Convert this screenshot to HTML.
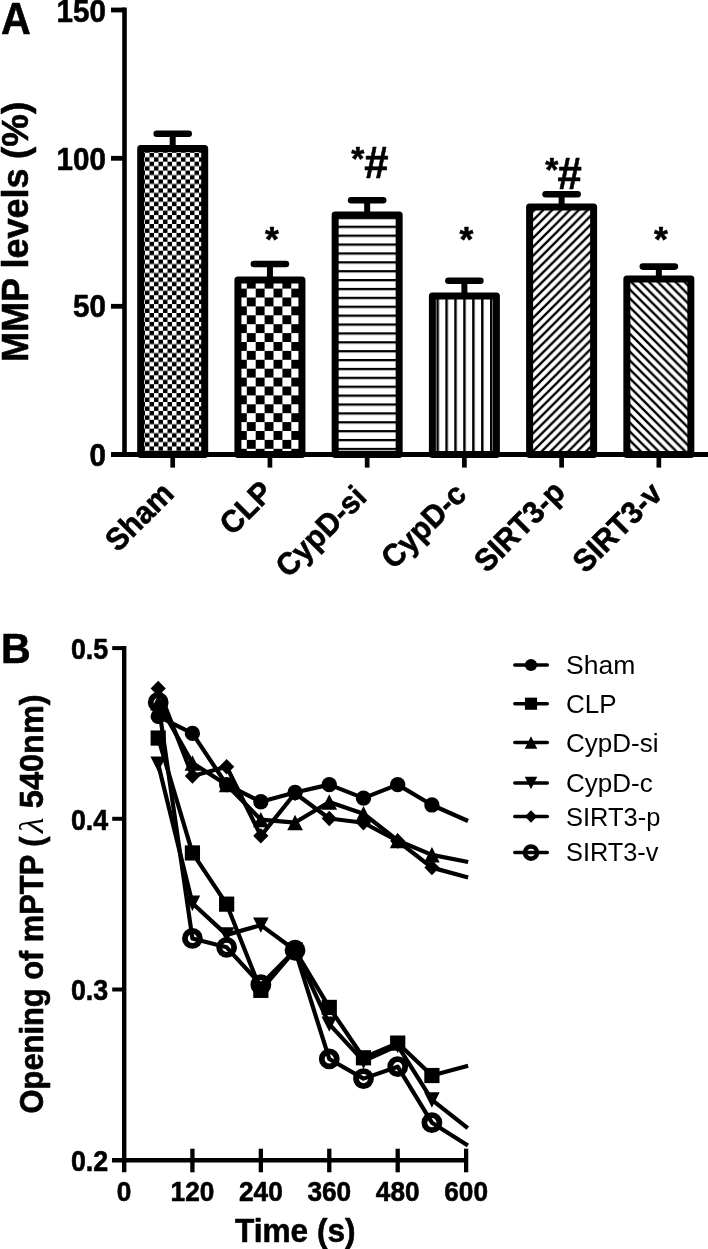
<!DOCTYPE html>
<html><head><meta charset="utf-8"><title>MMP levels and mPTP opening</title>
<style>html,body{margin:0;padding:0;background:#fff;width:708px;height:1249px;overflow:hidden}svg{display:block;filter:grayscale(1)}</style>
</head><body>
<svg width="708" height="1249" viewBox="0 0 708 1249">
<rect width="708" height="1249" fill="#fff"/>
<defs>
<pattern id="pSham" patternUnits="userSpaceOnUse" width="9" height="8.9" x="145" y="152.8">
  <rect width="9" height="8.9" fill="#000"/><rect width="4.5" height="4.45" fill="#fff"/><rect x="4.5" y="4.45" width="4.5" height="4.45" fill="#fff"/>
</pattern>
<pattern id="pCLP" patternUnits="userSpaceOnUse" width="17.8" height="17.8" x="246.8" y="288.6">
  <rect width="17.8" height="17.8" fill="#000"/><rect width="8.9" height="8.9" fill="#fff"/><rect x="8.9" y="8.9" width="8.9" height="8.9" fill="#fff"/>
</pattern>
<pattern id="pCsi" patternUnits="userSpaceOnUse" width="10" height="8.886" x="0" y="225.7">
  <rect width="10" height="8.886" fill="#fff"/><rect y="0" width="10" height="2.3" fill="#000"/>
</pattern>
<pattern id="pCc" patternUnits="userSpaceOnUse" width="8.93" height="10" x="445.35" y="0">
  <rect width="8.93" height="10" fill="#fff"/><rect x="0" width="2.5" height="10" fill="#000"/>
</pattern>
<pattern id="pSp" patternUnits="userSpaceOnUse" width="8.88" height="8.88" x="540" y="204.42">
  <rect width="8.88" height="8.88" fill="#fff"/>
  <path d="M-2,10.88 L10.88,-2 M-2,2 L2,-2 M6.88,10.88 L10.88,6.88" stroke="#000" stroke-width="2.3"/>
</pattern>
<pattern id="pSv" patternUnits="userSpaceOnUse" width="8.88" height="8.88" x="640" y="281.8">
  <rect width="8.88" height="8.88" fill="#fff"/>
  <path d="M-2,-2 L10.88,10.88 M-2,6.88 L2,10.88 M6.88,-2 L10.88,2" stroke="#000" stroke-width="2.3"/>
</pattern>
</defs>
<rect x="140.70" y="148.60" width="64.00" height="305.90" fill="url(#pSham)" stroke="#000" stroke-width="7.0" stroke-linejoin="round"/>
<line x1="172.70" y1="133.70" x2="172.70" y2="148.60" stroke="#000" stroke-width="6"/>
<line x1="156.70" y1="133.70" x2="188.70" y2="133.70" stroke="#000" stroke-width="6.6" stroke-linecap="round"/>
<rect x="237.93" y="280.00" width="64.00" height="174.50" fill="url(#pCLP)" stroke="#000" stroke-width="7.0" stroke-linejoin="round"/>
<line x1="269.93" y1="264.00" x2="269.93" y2="280.00" stroke="#000" stroke-width="6"/>
<line x1="253.93" y1="264.00" x2="285.93" y2="264.00" stroke="#000" stroke-width="6.6" stroke-linecap="round"/>
<rect x="335.16" y="214.90" width="64.00" height="239.60" fill="url(#pCsi)" stroke="#000" stroke-width="7.0" stroke-linejoin="round"/>
<line x1="367.16" y1="200.20" x2="367.16" y2="214.90" stroke="#000" stroke-width="6"/>
<line x1="351.16" y1="200.20" x2="383.16" y2="200.20" stroke="#000" stroke-width="6.6" stroke-linecap="round"/>
<rect x="432.39" y="295.90" width="64.00" height="158.60" fill="url(#pCc)" stroke="#000" stroke-width="7.0" stroke-linejoin="round"/>
<line x1="464.39" y1="280.70" x2="464.39" y2="295.90" stroke="#000" stroke-width="6"/>
<line x1="448.39" y1="280.70" x2="480.39" y2="280.70" stroke="#000" stroke-width="6.6" stroke-linecap="round"/>
<rect x="529.62" y="207.00" width="64.00" height="247.50" fill="url(#pSp)" stroke="#000" stroke-width="7.0" stroke-linejoin="round"/>
<line x1="561.62" y1="194.20" x2="561.62" y2="207.00" stroke="#000" stroke-width="6"/>
<line x1="545.62" y1="194.20" x2="577.62" y2="194.20" stroke="#000" stroke-width="6.6" stroke-linecap="round"/>
<rect x="626.85" y="279.00" width="64.00" height="175.50" fill="url(#pSv)" stroke="#000" stroke-width="7.0" stroke-linejoin="round"/>
<line x1="658.85" y1="266.60" x2="658.85" y2="279.00" stroke="#000" stroke-width="6"/>
<line x1="642.85" y1="266.60" x2="674.85" y2="266.60" stroke="#000" stroke-width="6.6" stroke-linecap="round"/>
<line x1="124.5" y1="7.6" x2="124.5" y2="457" stroke="#000" stroke-width="4.6"/>
<line x1="111" y1="454.5" x2="708" y2="454.5" stroke="#000" stroke-width="5"/>
<line x1="111" y1="10.0" x2="124.5" y2="10.0" stroke="#000" stroke-width="4.8"/>
<line x1="111" y1="158.3" x2="124.5" y2="158.3" stroke="#000" stroke-width="4.8"/>
<line x1="111" y1="306.3" x2="124.5" y2="306.3" stroke="#000" stroke-width="4.8"/>
<line x1="172.70" y1="454.5" x2="172.70" y2="467.6" stroke="#000" stroke-width="4.7"/>
<line x1="269.93" y1="454.5" x2="269.93" y2="467.6" stroke="#000" stroke-width="4.7"/>
<line x1="367.16" y1="454.5" x2="367.16" y2="467.6" stroke="#000" stroke-width="4.7"/>
<line x1="464.39" y1="454.5" x2="464.39" y2="467.6" stroke="#000" stroke-width="4.7"/>
<line x1="561.62" y1="454.5" x2="561.62" y2="467.6" stroke="#000" stroke-width="4.7"/>
<line x1="658.85" y1="454.5" x2="658.85" y2="467.6" stroke="#000" stroke-width="4.7"/>
<text transform="translate(105.90,22.20) scale(0.955,1.0)" font-family="Liberation Sans, sans-serif" font-size="31" font-weight="bold" text-anchor="end" stroke="#000" stroke-width="0.6" stroke-linejoin="round">150</text>
<text transform="translate(105.90,170.40) scale(0.955,1.0)" font-family="Liberation Sans, sans-serif" font-size="31" font-weight="bold" text-anchor="end" stroke="#000" stroke-width="0.6" stroke-linejoin="round">100</text>
<text transform="translate(105.90,316.80) scale(0.955,1.0)" font-family="Liberation Sans, sans-serif" font-size="31" font-weight="bold" text-anchor="end" stroke="#000" stroke-width="0.6" stroke-linejoin="round">50</text>
<text transform="translate(105.90,465.70) scale(0.955,1.0)" font-family="Liberation Sans, sans-serif" font-size="31" font-weight="bold" text-anchor="end" stroke="#000" stroke-width="0.6" stroke-linejoin="round">0</text>
<text transform="translate(0.90,33.90) scale(0.95,1.0)" font-family="Liberation Sans, sans-serif" font-size="43.5" font-weight="bold" text-anchor="start" stroke="#000" stroke-width="0.6" stroke-linejoin="round">A</text>
<text transform="translate(27.50,362.10) rotate(-90) scale(0.962,0.963)" font-family="Liberation Sans, sans-serif" font-size="37.5" font-weight="bold" text-anchor="start" stroke="#000" stroke-width="0.6" stroke-linejoin="round">MMP levels</text>
<text transform="translate(27.50,159.00) rotate(-90) scale(0.98,0.963)" font-family="Liberation Sans, sans-serif" font-size="37.5" font-weight="bold" text-anchor="start" stroke="#000" stroke-width="0.6" stroke-linejoin="round">(%)</text>
<text transform="translate(175.45,495.40) rotate(-45) scale(0.955,1.0)" font-family="Liberation Sans, sans-serif" font-size="31.3" font-weight="bold" text-anchor="end" stroke="#000" stroke-width="0.6" stroke-linejoin="round">Sham</text>
<text transform="translate(274.70,494.25) rotate(-45) scale(0.955,1.0)" font-family="Liberation Sans, sans-serif" font-size="31.3" font-weight="bold" text-anchor="end" stroke="#000" stroke-width="0.6" stroke-linejoin="round">CLP</text>
<text transform="translate(368.30,498.80) rotate(-45) scale(0.955,1.0)" font-family="Liberation Sans, sans-serif" font-size="31.3" font-weight="bold" text-anchor="end" stroke="#000" stroke-width="0.6" stroke-linejoin="round">CypD-si</text>
<text transform="translate(468.00,496.30) rotate(-45) scale(0.955,1.0)" font-family="Liberation Sans, sans-serif" font-size="31.3" font-weight="bold" text-anchor="end" stroke="#000" stroke-width="0.6" stroke-linejoin="round">CypD-c</text>
<text transform="translate(566.70,493.95) rotate(-45) scale(0.955,1.0)" font-family="Liberation Sans, sans-serif" font-size="31.3" font-weight="bold" text-anchor="end" stroke="#000" stroke-width="0.6" stroke-linejoin="round">SIRT3-p</text>
<text transform="translate(664.05,495.50) rotate(-45) scale(0.955,1.0)" font-family="Liberation Sans, sans-serif" font-size="31.3" font-weight="bold" text-anchor="end" stroke="#000" stroke-width="0.6" stroke-linejoin="round">SIRT3-v</text>
<text transform="translate(272.03,251.40) scale(1.0,1.0)" font-family="Liberation Sans, sans-serif" font-size="35.5" font-weight="bold" text-anchor="middle" stroke="#000" stroke-width="0.6" stroke-linejoin="round">*</text>
<text transform="translate(466.49,251.40) scale(1.0,1.0)" font-family="Liberation Sans, sans-serif" font-size="35.5" font-weight="bold" text-anchor="middle" stroke="#000" stroke-width="0.6" stroke-linejoin="round">*</text>
<text transform="translate(660.95,251.40) scale(1.0,1.0)" font-family="Liberation Sans, sans-serif" font-size="35.5" font-weight="bold" text-anchor="middle" stroke="#000" stroke-width="0.6" stroke-linejoin="round">*</text>
<text transform="translate(351.30,170.40) scale(1.0,1.0)" font-family="Liberation Sans, sans-serif" font-size="33.5" font-weight="bold" text-anchor="start" stroke="#000" stroke-width="0.6" stroke-linejoin="round">*</text>
<text transform="translate(364.30,177.80) scale(0.975,1.0)" font-family="Liberation Sans, sans-serif" font-size="44.8" font-weight="bold" text-anchor="start" stroke="#000" stroke-width="0.6" stroke-linejoin="round">#</text>
<text transform="translate(545.20,181.30) scale(1.0,1.0)" font-family="Liberation Sans, sans-serif" font-size="33.5" font-weight="bold" text-anchor="start" stroke="#000" stroke-width="0.6" stroke-linejoin="round">*</text>
<text transform="translate(557.40,188.70) scale(0.975,1.0)" font-family="Liberation Sans, sans-serif" font-size="44.8" font-weight="bold" text-anchor="start" stroke="#000" stroke-width="0.6" stroke-linejoin="round">#</text>
<line x1="124.2" y1="646" x2="124.2" y2="1172.3" stroke="#000" stroke-width="4.4"/>
<line x1="112" y1="1160.20" x2="468.02" y2="1160.20" stroke="#000" stroke-width="4.6"/>
<line x1="112.2" y1="648.10" x2="124.2" y2="648.10" stroke="#000" stroke-width="4"/>
<line x1="112.2" y1="818.80" x2="124.2" y2="818.80" stroke="#000" stroke-width="4"/>
<line x1="112.2" y1="989.50" x2="124.2" y2="989.50" stroke="#000" stroke-width="4"/>
<line x1="192.42" y1="1148.7" x2="192.42" y2="1172.3" stroke="#000" stroke-width="4.3"/>
<line x1="260.85" y1="1148.7" x2="260.85" y2="1172.3" stroke="#000" stroke-width="4.3"/>
<line x1="329.27" y1="1148.7" x2="329.27" y2="1172.3" stroke="#000" stroke-width="4.3"/>
<line x1="397.70" y1="1148.7" x2="397.70" y2="1172.3" stroke="#000" stroke-width="4.3"/>
<line x1="466.12" y1="1148.7" x2="466.12" y2="1172.3" stroke="#000" stroke-width="4.3"/>
<text transform="translate(108.20,658.90) scale(0.91,1.0)" font-family="Liberation Sans, sans-serif" font-size="29.5" font-weight="bold" text-anchor="end" stroke="#000" stroke-width="0.6" stroke-linejoin="round">0.5</text>
<text transform="translate(108.20,829.60) scale(0.91,1.0)" font-family="Liberation Sans, sans-serif" font-size="29.5" font-weight="bold" text-anchor="end" stroke="#000" stroke-width="0.6" stroke-linejoin="round">0.4</text>
<text transform="translate(108.20,1000.30) scale(0.91,1.0)" font-family="Liberation Sans, sans-serif" font-size="29.5" font-weight="bold" text-anchor="end" stroke="#000" stroke-width="0.6" stroke-linejoin="round">0.3</text>
<text transform="translate(108.20,1171.00) scale(0.91,1.0)" font-family="Liberation Sans, sans-serif" font-size="29.5" font-weight="bold" text-anchor="end" stroke="#000" stroke-width="0.6" stroke-linejoin="round">0.2</text>
<text transform="translate(124.00,1200.90) scale(0.944,1.0)" font-family="Liberation Sans, sans-serif" font-size="27.8" font-weight="bold" text-anchor="middle" stroke="#000" stroke-width="0.6" stroke-linejoin="round">0</text>
<text transform="translate(192.42,1200.90) scale(0.944,1.0)" font-family="Liberation Sans, sans-serif" font-size="27.8" font-weight="bold" text-anchor="middle" stroke="#000" stroke-width="0.6" stroke-linejoin="round">120</text>
<text transform="translate(260.85,1200.90) scale(0.944,1.0)" font-family="Liberation Sans, sans-serif" font-size="27.8" font-weight="bold" text-anchor="middle" stroke="#000" stroke-width="0.6" stroke-linejoin="round">240</text>
<text transform="translate(329.27,1200.90) scale(0.944,1.0)" font-family="Liberation Sans, sans-serif" font-size="27.8" font-weight="bold" text-anchor="middle" stroke="#000" stroke-width="0.6" stroke-linejoin="round">360</text>
<text transform="translate(397.70,1200.90) scale(0.944,1.0)" font-family="Liberation Sans, sans-serif" font-size="27.8" font-weight="bold" text-anchor="middle" stroke="#000" stroke-width="0.6" stroke-linejoin="round">480</text>
<text transform="translate(466.12,1200.90) scale(0.944,1.0)" font-family="Liberation Sans, sans-serif" font-size="27.8" font-weight="bold" text-anchor="middle" stroke="#000" stroke-width="0.6" stroke-linejoin="round">600</text>
<text transform="translate(1.10,662.70) scale(0.95,1.0)" font-family="Liberation Sans, sans-serif" font-size="43.3" font-weight="bold" text-anchor="start" stroke="#000" stroke-width="0.6" stroke-linejoin="round">B</text>
<text transform="translate(295.30,1242.20) scale(0.952,1.0)" font-family="Liberation Sans, sans-serif" font-size="33.2" font-weight="bold" text-anchor="middle" stroke="#000" stroke-width="0.6" stroke-linejoin="round">Time (s)</text>
<text transform="translate(42.8,1113.4) rotate(-90) scale(0.9635,1.045)" font-family="Liberation Sans, sans-serif" font-size="32" font-weight="bold" stroke="#000" stroke-width="0.6" stroke-linejoin="round">Opening of mPTP (</text>
<text transform="translate(42.8,833) rotate(-90) scale(1.12,1.077)" font-family="Liberation Serif, serif" font-size="32" font-style="italic">&#955;</text>
<text transform="translate(42.8,808.2) rotate(-90) scale(1.016,1.045)" font-family="Liberation Sans, sans-serif" font-size="32" font-weight="bold" stroke="#000" stroke-width="0.6" stroke-linejoin="round">540nm)</text>
<polyline points="158.21,716.38 192.42,733.45 226.64,784.66 260.85,801.73 295.06,792.51 329.27,784.66 363.48,798.15 397.70,784.66 431.91,804.97 466.12,820.17" fill="none" stroke="#000" stroke-width="4.2" stroke-linejoin="round" stroke-linecap="square"/>
<polyline points="158.21,738.06 192.42,852.94 226.64,904.15 260.85,990.35 295.06,950.24 329.27,1007.42 363.48,1057.78 397.70,1043.10 431.91,1075.53 466.12,1066.32" fill="none" stroke="#000" stroke-width="4.2" stroke-linejoin="round" stroke-linecap="square"/>
<polyline points="158.21,702.72 192.42,762.98 226.64,784.66 260.85,819.65 295.06,822.56 329.27,802.07 363.48,813.68 397.70,840.48 431.91,854.82 466.12,861.65" fill="none" stroke="#000" stroke-width="4.2" stroke-linejoin="round" stroke-linecap="square"/>
<polyline points="158.21,764.18 192.42,903.30 226.64,934.88 260.85,925.15 295.06,950.24 329.27,1024.15 363.48,1061.19 397.70,1045.66 431.91,1099.94 466.12,1126.91" fill="none" stroke="#000" stroke-width="4.2" stroke-linejoin="round" stroke-linecap="square"/>
<polyline points="158.21,688.56 192.42,775.95 226.64,766.74 260.85,835.87 295.06,793.20 329.27,818.46 363.48,822.73 397.70,840.99 431.91,867.62 466.12,877.01" fill="none" stroke="#000" stroke-width="4.2" stroke-linejoin="round" stroke-linecap="square"/>
<polyline points="158.21,702.38 192.42,938.46 226.64,947.34 260.85,984.72 295.06,950.24 329.27,1058.97 363.48,1078.61 397.70,1066.66 431.91,1122.65 466.12,1144.32" fill="none" stroke="#000" stroke-width="4.2" stroke-linejoin="round" stroke-linecap="square"/>
<circle cx="158.21" cy="716.38" r="7.65"/>
<circle cx="192.42" cy="733.45" r="7.65"/>
<circle cx="226.64" cy="784.66" r="7.65"/>
<circle cx="260.85" cy="801.73" r="7.65"/>
<circle cx="295.06" cy="792.51" r="7.65"/>
<circle cx="329.27" cy="784.66" r="7.65"/>
<circle cx="363.48" cy="798.15" r="7.65"/>
<circle cx="397.70" cy="784.66" r="7.65"/>
<circle cx="431.91" cy="804.97" r="7.65"/>
<rect x="150.61" y="730.46" width="15.20" height="15.20"/>
<rect x="184.82" y="845.34" width="15.20" height="15.20"/>
<rect x="219.04" y="896.55" width="15.20" height="15.20"/>
<rect x="253.25" y="982.75" width="15.20" height="15.20"/>
<rect x="287.46" y="942.64" width="15.20" height="15.20"/>
<rect x="321.67" y="999.82" width="15.20" height="15.20"/>
<rect x="355.88" y="1050.18" width="15.20" height="15.20"/>
<rect x="390.10" y="1035.50" width="15.20" height="15.20"/>
<rect x="424.31" y="1067.93" width="15.20" height="15.20"/>
<path d="M158.21,695.02 L166.01,710.42 L150.41,710.42Z"/>
<path d="M192.42,755.28 L200.22,770.68 L184.62,770.68Z"/>
<path d="M226.64,776.96 L234.44,792.36 L218.84,792.36Z"/>
<path d="M260.85,811.95 L268.65,827.35 L253.05,827.35Z"/>
<path d="M295.06,814.86 L302.86,830.26 L287.26,830.26Z"/>
<path d="M329.27,794.37 L337.07,809.77 L321.47,809.77Z"/>
<path d="M363.48,805.98 L371.28,821.38 L355.68,821.38Z"/>
<path d="M397.70,832.78 L405.50,848.18 L389.90,848.18Z"/>
<path d="M431.91,847.12 L439.71,862.52 L424.11,862.52Z"/>
<path d="M158.21,771.88 L166.01,756.48 L150.41,756.48Z"/>
<path d="M192.42,911.00 L200.22,895.60 L184.62,895.60Z"/>
<path d="M226.64,942.58 L234.44,927.18 L218.84,927.18Z"/>
<path d="M260.85,932.85 L268.65,917.45 L253.05,917.45Z"/>
<path d="M295.06,957.94 L302.86,942.54 L287.26,942.54Z"/>
<path d="M329.27,1031.85 L337.07,1016.45 L321.47,1016.45Z"/>
<path d="M363.48,1068.89 L371.28,1053.49 L355.68,1053.49Z"/>
<path d="M397.70,1053.36 L405.50,1037.96 L389.90,1037.96Z"/>
<path d="M431.91,1107.64 L439.71,1092.24 L424.11,1092.24Z"/>
<path d="M158.21,680.86 L165.81,688.56 L158.21,696.26 L150.61,688.56Z"/>
<path d="M192.42,768.25 L200.02,775.95 L192.42,783.65 L184.82,775.95Z"/>
<path d="M226.64,759.04 L234.24,766.74 L226.64,774.44 L219.04,766.74Z"/>
<path d="M260.85,828.17 L268.45,835.87 L260.85,843.57 L253.25,835.87Z"/>
<path d="M295.06,785.50 L302.66,793.20 L295.06,800.90 L287.46,793.20Z"/>
<path d="M329.27,810.76 L336.87,818.46 L329.27,826.16 L321.67,818.46Z"/>
<path d="M363.48,815.03 L371.08,822.73 L363.48,830.43 L355.88,822.73Z"/>
<path d="M397.70,833.29 L405.30,840.99 L397.70,848.69 L390.10,840.99Z"/>
<path d="M431.91,859.92 L439.51,867.62 L431.91,875.32 L424.31,867.62Z"/>
<circle cx="158.21" cy="702.38" r="7.5" fill="none" stroke="#000" stroke-width="5.8"/>
<circle cx="192.42" cy="938.46" r="7.5" fill="none" stroke="#000" stroke-width="5.8"/>
<circle cx="226.64" cy="947.34" r="7.5" fill="none" stroke="#000" stroke-width="5.8"/>
<circle cx="260.85" cy="984.72" r="7.5" fill="none" stroke="#000" stroke-width="5.8"/>
<circle cx="295.06" cy="950.24" r="7.5" fill="none" stroke="#000" stroke-width="5.8"/>
<circle cx="329.27" cy="1058.97" r="7.5" fill="none" stroke="#000" stroke-width="5.8"/>
<circle cx="363.48" cy="1078.61" r="7.5" fill="none" stroke="#000" stroke-width="5.8"/>
<circle cx="397.70" cy="1066.66" r="7.5" fill="none" stroke="#000" stroke-width="5.8"/>
<circle cx="431.91" cy="1122.65" r="7.5" fill="none" stroke="#000" stroke-width="5.8"/>
<line x1="514.8" y1="665.0" x2="547.3" y2="665.0" stroke="#000" stroke-width="3.5" stroke-linecap="round"/>
<circle cx="531.00" cy="665.00" r="6.12"/>
<text transform="translate(566.00,673.70) scale(1.02,1.0)" font-family="Liberation Sans, sans-serif" font-size="26" font-weight="normal" text-anchor="start">Sham</text>
<line x1="514.8" y1="703.7" x2="547.3" y2="703.7" stroke="#000" stroke-width="3.5" stroke-linecap="round"/>
<rect x="524.92" y="697.62" width="12.16" height="12.16"/>
<text transform="translate(566.00,712.50) scale(1.0,1.0)" font-family="Liberation Sans, sans-serif" font-size="26" font-weight="normal" text-anchor="start">CLP</text>
<line x1="514.8" y1="742.5" x2="547.3" y2="742.5" stroke="#000" stroke-width="3.5" stroke-linecap="round"/>
<path d="M531.00,736.34 L537.24,748.66 L524.76,748.66Z"/>
<text transform="translate(566.00,751.80) scale(1.0,1.0)" font-family="Liberation Sans, sans-serif" font-size="26" font-weight="normal" text-anchor="start">CypD-si</text>
<line x1="514.8" y1="783.0" x2="547.3" y2="783.0" stroke="#000" stroke-width="3.5" stroke-linecap="round"/>
<path d="M531.00,789.16 L537.24,776.84 L524.76,776.84Z"/>
<text transform="translate(566.00,791.70) scale(1.0,1.0)" font-family="Liberation Sans, sans-serif" font-size="26" font-weight="normal" text-anchor="start">CypD-c</text>
<line x1="514.8" y1="816.5" x2="547.3" y2="816.5" stroke="#000" stroke-width="3.5" stroke-linecap="round"/>
<path d="M531.00,810.34 L537.08,816.50 L531.00,822.66 L524.92,816.50Z"/>
<text transform="translate(566.00,826.00) scale(0.98,1.0)" font-family="Liberation Sans, sans-serif" font-size="26" font-weight="normal" text-anchor="start">SIRT3-p</text>
<line x1="514.8" y1="852.6" x2="547.3" y2="852.6" stroke="#000" stroke-width="3.5" stroke-linecap="round"/>
<circle cx="531.00" cy="852.60" r="6.05" fill="none" stroke="#000" stroke-width="4.5"/>
<text transform="translate(566.00,861.30) scale(0.975,1.0)" font-family="Liberation Sans, sans-serif" font-size="26" font-weight="normal" text-anchor="start">SIRT3-v</text>
</svg>
</body></html>
